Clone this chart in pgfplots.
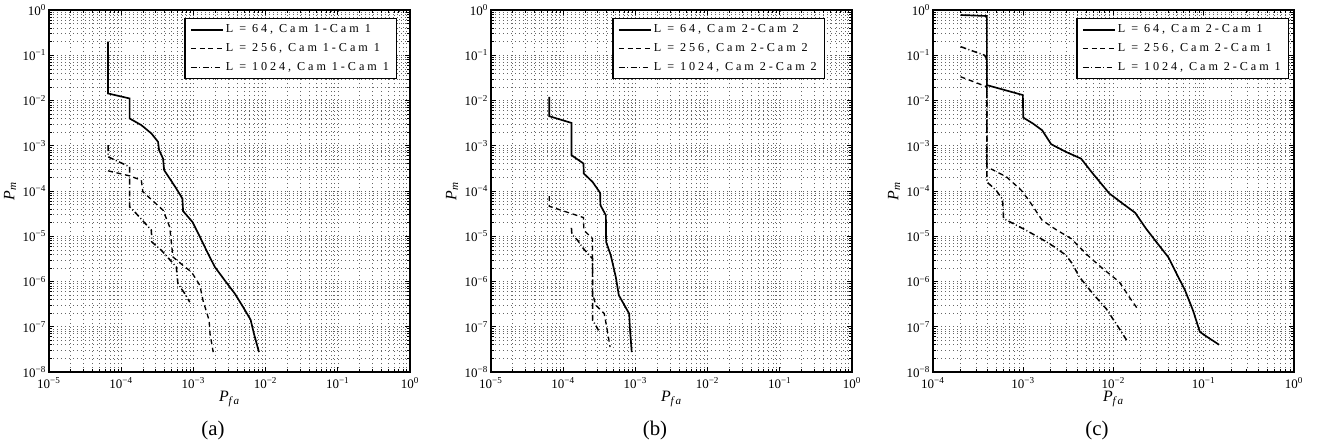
\documentclass[border=0pt]{standalone}
\usepackage{fontspec}
\setmainfont{Liberation Serif}
\newfontfamily\legfont[LetterSpace=24]{Liberation Serif}
\usepackage{pgfplots}
\pgfplotsset{compat=1.18}

\newcommand\ts[1]{10\textsuperscript{#1}}

% shared look (set globally, no custom axis style)
\pgfplotsset{
  legend image code/.code={\draw[#1] (0pt,0pt) -- (19pt,0pt);},
  every axis/.append style={
    scale only axis, width=216.6pt, height=217.2pt,
    grid=both,
    major grid style={black!60, dotted, line width=0.35pt},
    minor grid style={black!60, dotted, line width=0.35pt},
    tick align=inside, major tick length=3pt, minor tick length=1.6pt,
    tick style={black, line width=0.4pt},
    axis line style={line width=1pt},
    ticklabel style={font=\fontsize{7.8}{9}\selectfont},
    yticklabel style={inner xsep=1.5pt},
    label style={font=\fontsize{9.5}{10}\selectfont},
    legend cell align=left,
  },
  every axis legend/.append style={draw=black, line width=0.8pt, anchor=north east,
      font=\legfont\fontsize{7.3}{8}\selectfont, inner xsep=3pt, inner ysep=1.5pt, row sep=1pt,
      nodes={inner xsep=1.5pt}},
  every axis x label/.append style={at={(axis description cs:0.5,-0.075)}, anchor=center},
  every axis y label/.append style={at={(axis description cs:-0.108,0.5)}, anchor=center},
  l64/.style={black, line width=1pt},
  l256/.style={black, line width=0.8pt, dash pattern=on 3pt off 2.2pt},
  l1024/.style={black, line width=0.9pt, dash pattern=on 3.5pt off 1.5pt on 0.6pt off 1.5pt},
}

\begin{document}
\begin{tikzpicture}
\useasboundingbox (-29.4pt,-45pt) rectangle (768.6pt,223.2pt);

% (a)
\begin{axis}[at={(0pt,0pt)}, anchor=south west,
  xmode=log, ymode=log, xmin=1e-5, xmax=1, ymin=1e-8, ymax=1,
  xtick={1e-5,1e-4,1e-3,1e-2,1e-1,1},
  xticklabels={\ts{−5},\ts{−4},\ts{−3},\ts{−2},\ts{−1},\ts{0}},
  ytick={1e-8,1e-7,1e-6,1e-5,1e-4,1e-3,1e-2,1e-1,1},
  yticklabels={\ts{−8},\ts{−7},\ts{−6},\ts{−5},\ts{−4},\ts{−3},\ts{−2},\ts{−1},\ts{0}},
  minor xtick={2e-5,3e-5,4e-5,5e-5,6e-5,7e-5,8e-5,9e-5,2e-4,3e-4,4e-4,5e-4,6e-4,7e-4,8e-4,9e-4,2e-3,3e-3,4e-3,5e-3,6e-3,7e-3,8e-3,9e-3,2e-2,3e-2,4e-2,5e-2,6e-2,7e-2,8e-2,9e-2,0.2,0.3,0.4,0.5,0.6,0.7,0.8,0.9},
  minor ytick={2e-8,3e-8,4e-8,5e-8,6e-8,7e-8,8e-8,9e-8,2e-7,3e-7,4e-7,5e-7,6e-7,7e-7,8e-7,9e-7,2e-6,3e-6,4e-6,5e-6,6e-6,7e-6,8e-6,9e-6,2e-5,3e-5,4e-5,5e-5,6e-5,7e-5,8e-5,9e-5,2e-4,3e-4,4e-4,5e-4,6e-4,7e-4,8e-4,9e-4,2e-3,3e-3,4e-3,5e-3,6e-3,7e-3,8e-3,9e-3,2e-2,3e-2,4e-2,5e-2,6e-2,7e-2,8e-2,9e-2,0.2,0.3,0.4,0.5,0.6,0.7,0.8,0.9},
  xlabel={\textit{P}\textsubscript{\textit{f\,a}}},
  ylabel={\textit{P}\textsubscript{\textit{m}}},
  legend style={at={(axis description cs:0.964,0.978)}}]
\addplot[l64] coordinates {(6.58e-5,0.2)(6.58e-5,0.0143)(1.31e-4,0.0111)(1.31e-4,4.0e-3)(1.9e-4,2.86e-3)(2.62e-4,1.87e-3)(3.24e-4,1.22e-3)(3.35e-4,8.0e-4)(3.8e-4,5.2e-4)(3.93e-4,2.9e-4)(4.7e-4,1.89e-4)(5.8e-4,1.13e-4)(7.05e-4,6.8e-5)(7.2e-4,3.6e-5)(9.7e-4,2.07e-5)(1.23e-3,9.7e-6)(1.6e-3,4.1e-6)(1.98e-3,2.1e-6)(2.72e-3,1.06e-6)(3.75e-3,5.4e-7)(4.9e-3,2.7e-7)(6.2e-3,1.43e-7)(6.9e-3,7.0e-8)(8.1e-3,2.76e-8)};
\addplot[l256] coordinates {(6.58e-5,2.79e-4)(1.31e-4,2.16e-4)(1.9e-4,1.73e-4)(2.0e-4,9.6e-5)(3.8e-4,3.76e-5)(4.7e-4,1.6e-5)(5.2e-4,3.5e-6)(7.6e-4,2.1e-6)(9.4e-4,1.63e-6)(1.23e-3,8.2e-7)(1.36e-3,3.8e-7)(1.65e-3,1.39e-7)(1.7e-3,7e-8)(1.88e-3,2.76e-8)};
\addplot[l1024] coordinates {(6.58e-5,1.03e-3)(6.58e-5,5.7e-4)(1.31e-4,3.42e-4)(1.31e-4,4.45e-5)(1.54e-4,3.45e-5)(2.62e-4,1.36e-5)(2.65e-4,7.5e-6)(3.6e-4,4.9e-6)(5.8e-4,2.1e-6)(6.1e-4,9e-7)(7.6e-4,5.4e-7)(8.9e-4,3.5e-7)};
\legend{{L = 64, Cam 1-Cam 1},{L = 256, Cam 1-Cam 1},{L = 1024, Cam 1-Cam 1}}
\end{axis}

% (b)
\begin{axis}[at={(265.2pt,0pt)}, anchor=south west,
  xmode=log, ymode=log, xmin=1e-5, xmax=1, ymin=1e-8, ymax=1,
  xtick={1e-5,1e-4,1e-3,1e-2,1e-1,1},
  xticklabels={\ts{−5},\ts{−4},\ts{−3},\ts{−2},\ts{−1},\ts{0}},
  ytick={1e-8,1e-7,1e-6,1e-5,1e-4,1e-3,1e-2,1e-1,1},
  yticklabels={\ts{−8},\ts{−7},\ts{−6},\ts{−5},\ts{−4},\ts{−3},\ts{−2},\ts{−1},\ts{0}},
  minor xtick={2e-5,3e-5,4e-5,5e-5,6e-5,7e-5,8e-5,9e-5,2e-4,3e-4,4e-4,5e-4,6e-4,7e-4,8e-4,9e-4,2e-3,3e-3,4e-3,5e-3,6e-3,7e-3,8e-3,9e-3,2e-2,3e-2,4e-2,5e-2,6e-2,7e-2,8e-2,9e-2,0.2,0.3,0.4,0.5,0.6,0.7,0.8,0.9},
  minor ytick={2e-8,3e-8,4e-8,5e-8,6e-8,7e-8,8e-8,9e-8,2e-7,3e-7,4e-7,5e-7,6e-7,7e-7,8e-7,9e-7,2e-6,3e-6,4e-6,5e-6,6e-6,7e-6,8e-6,9e-6,2e-5,3e-5,4e-5,5e-5,6e-5,7e-5,8e-5,9e-5,2e-4,3e-4,4e-4,5e-4,6e-4,7e-4,8e-4,9e-4,2e-3,3e-3,4e-3,5e-3,6e-3,7e-3,8e-3,9e-3,2e-2,3e-2,4e-2,5e-2,6e-2,7e-2,8e-2,9e-2,0.2,0.3,0.4,0.5,0.6,0.7,0.8,0.9},
  xlabel={\textit{P}\textsubscript{\textit{f\,a}}},
  ylabel={\textit{P}\textsubscript{\textit{m}}},
  legend style={at={(axis description cs:0.925,0.978)}}]
\addplot[l64] coordinates {(6.4e-5,0.0121)(6.4e-5,4.5e-3)(1.3e-4,3.2e-3)(1.3e-4,6.2e-4)(1.91e-4,4.05e-4)(1.93e-4,2.43e-4)(2.55e-4,1.59e-4)(3.25e-4,9.1e-5)(3.28e-4,4.85e-5)(3.9e-4,2.9e-5)(3.93e-4,7.5e-6)(4.56e-4,3.8e-6)(5.35e-4,1.26e-6)(5.9e-4,4.95e-7)(8.2e-4,1.95e-7)(8.4e-4,9.1e-8)(8.9e-4,2.76e-8)};
\addplot[l256] coordinates {(6.4e-5,7.7e-5)(6.4e-5,4.6e-5)(1.91e-4,2.59e-5)(1.93e-4,1.36e-5)(2.55e-4,8.9e-6)(2.55e-4,5.4e-7)(2.83e-4,3.0e-7)(3.7e-4,1.95e-7)(3.97e-4,1.07e-7)(4.46e-4,3.56e-8)};
\addplot[l1024] coordinates {(1.3e-4,1.53e-5)(1.32e-4,1.09e-5)(1.58e-4,8.2e-6)(1.91e-4,5.3e-6)(2.55e-4,3.2e-6)(2.55e-4,1.39e-7)(2.83e-4,1.07e-7)(3.08e-4,8.3e-8)};
\legend{{L = 64, Cam 2-Cam 2},{L = 256, Cam 2-Cam 2},{L = 1024, Cam 2-Cam 2}}
\end{axis}

% (c)
\begin{axis}[at={(530.4pt,0pt)}, anchor=south west,
  xmode=log, ymode=log, xmin=1e-4, xmax=1, ymin=1e-8, ymax=1,
  xtick={1e-4,1e-3,1e-2,1e-1,1},
  xticklabels={\ts{−4},\ts{−3},\ts{−2},\ts{−1},\ts{0}},
  ytick={1e-8,1e-7,1e-6,1e-5,1e-4,1e-3,1e-2,1e-1,1},
  yticklabels={\ts{−8},\ts{−7},\ts{−6},\ts{−5},\ts{−4},\ts{−3},\ts{−2},\ts{−1},\ts{0}},
  minor xtick={2e-4,3e-4,4e-4,5e-4,6e-4,7e-4,8e-4,9e-4,2e-3,3e-3,4e-3,5e-3,6e-3,7e-3,8e-3,9e-3,2e-2,3e-2,4e-2,5e-2,6e-2,7e-2,8e-2,9e-2,0.2,0.3,0.4,0.5,0.6,0.7,0.8,0.9},
  minor ytick={2e-8,3e-8,4e-8,5e-8,6e-8,7e-8,8e-8,9e-8,2e-7,3e-7,4e-7,5e-7,6e-7,7e-7,8e-7,9e-7,2e-6,3e-6,4e-6,5e-6,6e-6,7e-6,8e-6,9e-6,2e-5,3e-5,4e-5,5e-5,6e-5,7e-5,8e-5,9e-5,2e-4,3e-4,4e-4,5e-4,6e-4,7e-4,8e-4,9e-4,2e-3,3e-3,4e-3,5e-3,6e-3,7e-3,8e-3,9e-3,2e-2,3e-2,4e-2,5e-2,6e-2,7e-2,8e-2,9e-2,0.2,0.3,0.4,0.5,0.6,0.7,0.8,0.9},
  xlabel={\textit{P}\textsubscript{\textit{f\,a}}},
  ylabel={\textit{P}\textsubscript{\textit{m}}},
  legend style={at={(axis description cs:0.986,0.978)}}]
\addplot[l64] coordinates {(2.02e-4,0.775)(3.95e-4,0.737)(3.95e-4,0.0219)(9.9e-4,0.0132)(1.0e-3,4.2e-3)(1.28e-3,3.1e-3)(1.62e-3,2.2e-3)(2.04e-3,1.08e-3)(2.98e-3,7.3e-4)(4.37e-3,5.2e-4)(5.9e-3,2.43e-4)(9.0e-3,8.8e-5)(1.26e-2,5.3e-5)(1.74e-2,3.3e-5)(2.29e-2,1.48e-5)(3.08e-2,6.9e-6)(4.07e-2,3.4e-6)(5.0e-2,1.49e-6)(6.2e-2,6.4e-7)(7.6e-2,2.3e-7)(9.06e-2,7.7e-8)(0.110,5.9e-8)(0.148,4.0e-8)};
\addplot[l256] coordinates {(2.02e-4,0.0335)(3.95e-4,0.0201)(3.95e-4,3.42e-4)(6.5e-4,2.06e-4)(9.5e-4,1.04e-4)(1.15e-3,6.3e-5)(1.62e-3,2.26e-5)(2.31e-3,1.4e-5)(3.39e-3,8.9e-6)(4.37e-3,5.3e-6)(5.4e-3,3.5e-6)(7.6e-3,1.93e-6)(1.16e-2,9.8e-7)(1.5e-2,4.5e-7)(1.9e-2,2.3e-7)};
\addplot[l1024] coordinates {(2.02e-4,0.155)(3.73e-4,0.1)(3.95e-4,0.08)(3.95e-4,1.59e-4)(5.0e-4,1.04e-4)(5.9e-4,6.5e-5)(6.05e-4,2.46e-5)(9.9e-4,1.48e-5)(1.51e-3,9.3e-6)(2.22e-3,5.8e-6)(2.98e-3,3.8e-6)(3.48e-3,2.5e-6)(4.19e-3,1.26e-6)(5.9e-3,5.4e-7)(8.3e-3,2.5e-7)(1.16e-2,9.1e-8)(1.44e-2,4.6e-8)};
\legend{{L = 64, Cam 2-Cam 1},{L = 256, Cam 2-Cam 1},{L = 1024, Cam 2-Cam 1}}
\end{axis}

\node[font=\fontsize{12.5}{14}\selectfont] at (98.4pt,-34.8pt) {(a)};
\node[font=\fontsize{12.5}{14}\selectfont] at (363.6pt,-34.8pt) {(b)};
\node[font=\fontsize{12.5}{14}\selectfont] at (628.8pt,-34.8pt) {(c)};
\end{tikzpicture}
\end{document}
